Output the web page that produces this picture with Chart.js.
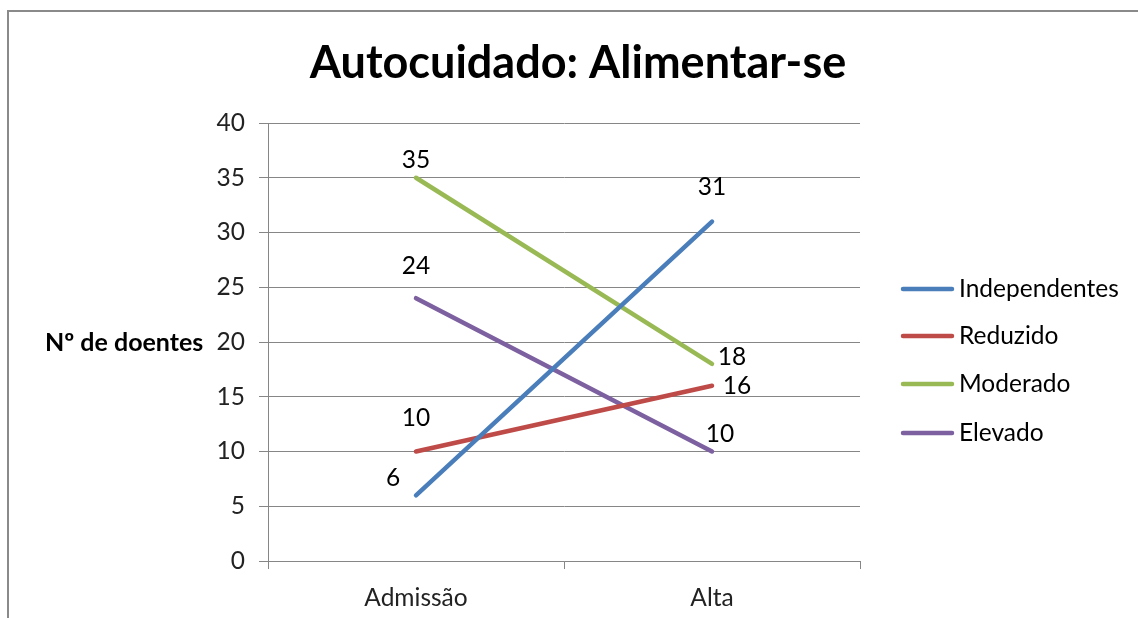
<!DOCTYPE html>
<html><head><meta charset="utf-8">
<script src="https://cdn.jsdelivr.net/npm/chart.js@4/dist/chart.umd.min.js"></script>
<style>html,body{margin:0;padding:0;background:#fff;overflow:hidden}</style>
</head><body><canvas id="c" width="1138" height="618"></canvas>
<script>
// ---- data ----
const categories = ['Admissão', 'Alta'];
const seriesNames = ['Independentes', 'Reduzido', 'Moderado', 'Elevado'];
const independentes = [6, 31];
const reduzido = [10, 16];
const moderado = [35, 18];
const elevado = [24, 10];
const yMin = 0, yMax = 40, yStep = 5;
const titleText = 'Autocuidado: Alimentar-se';
const yAxisTitle = 'Nº de doentes';

// ---- styling ----
const FONT = 'Lato';
const colors = ['#4A7EBB', '#BE4B48', '#98B954', '#7D60A0'];
// data-label offsets (px) from each point, per series: [Admissão, Alta]
const labelOffsets = [
  [[-23, -17], [0, -34]],
  [[0, -33], [25, 0]],
  [[0, -18], [20, -7]],
  [[0, -32], [8, -17]]
];

const seriesValues = [independentes, reduzido, moderado, elevado];

const decor = {
  id: 'decor',
  beforeDraw(chart) {
    const ctx = chart.ctx;
    ctx.save();
    ctx.strokeStyle = '#8a8a8a';
    ctx.lineWidth = 2;
    ctx.beginPath();
    ctx.moveTo(8, 640); ctx.lineTo(8, 11); ctx.lineTo(1160, 11);
    ctx.stroke();
    ctx.restore();
  },
  afterDraw(chart) {
    const ctx = chart.ctx;
    ctx.save();
    // title
    ctx.fillStyle = '#000';
    ctx.font = 'bold 45px ' + FONT;
    ctx.textAlign = 'center';
    ctx.textBaseline = 'middle';
    ctx.fillText(titleText, 578, 63);
    // y axis title
    ctx.font = 'bold 25px ' + FONT;
    ctx.textAlign = 'left';
    ctx.fillText(yAxisTitle, 45, 343);
    // data labels
    ctx.font = '24.5px ' + FONT;
    ctx.textAlign = 'center';
    chart.data.datasets.forEach((ds, i) => {
      const meta = chart.getDatasetMeta(i);
      meta.data.forEach((pt, j) => {
        const off = labelOffsets[i][j];
        ctx.fillText(String(ds.data[j]), pt.x + off[0], pt.y + off[1]);
      });
    });
    // legend
    const ly = [289, 336, 384, 433];
    chart.data.datasets.forEach((ds, i) => {
      ctx.strokeStyle = ds.borderColor;
      ctx.lineWidth = 4.5;
      ctx.lineCap = 'round';
      ctx.beginPath();
      ctx.moveTo(903, ly[i]); ctx.lineTo(952, ly[i]);
      ctx.stroke();
      ctx.fillStyle = '#000';
      ctx.textAlign = 'left';
      ctx.fillText(ds.label, 959, ly[i]);
    });
    ctx.restore();
  }
};

const tickFont = { family: FONT, size: 24.5 };

new Chart(document.getElementById('c'), {
  type: 'line',
  data: {
    labels: categories,
    datasets: seriesNames.map((n, i) => ({
      label: n,
      data: seriesValues[i],
      borderColor: colors[i],
      backgroundColor: colors[i],
      borderWidth: 4.5,
      borderCapStyle: 'round',
      pointRadius: 0,
      tension: 0,
      clip: false
    }))
  },
  options: {
    responsive: false,
    animation: false,
    layout: { padding: { left: 0, top: 123, right: 278, bottom: 0 } },
    plugins: { legend: { display: false }, title: { display: false }, tooltip: { enabled: false } },
    scales: {
      x: {
        offset: true,
        grid: { drawOnChartArea: false, offset: true, tickLength: 8, color: '#868686' },
        border: { color: '#868686' },
        ticks: { font: tickFont, color: '#222', padding: 14 },
        afterFit(s) { s.height = 57; }
      },
      y: {
        min: yMin, max: yMax,
        ticks: { stepSize: yStep, font: tickFont, color: '#222', padding: 14 },
        grid: { color: '#868686', tickLength: 9 },
        border: { color: '#868686' },
        afterFit(s) { s.width = 268; }
      }
    }
  },
  plugins: [decor]
});
</script>
</body></html>
